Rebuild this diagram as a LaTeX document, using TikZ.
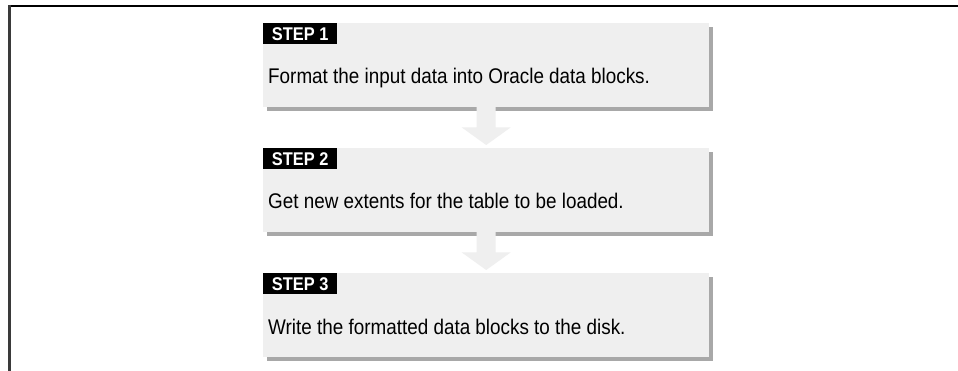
\documentclass[tikz,border=0pt]{standalone}
\usepackage{fontspec}
\setmainfont{Liberation Sans}
\newfontfamily\condfont[FakeStretch=0.89]{Liberation Sans}
\usetikzlibrary{calc,shadows}
\definecolor{boxfill}{HTML}{EFEFEF}
\definecolor{shadowc}{HTML}{A8A8A8}
\definecolor{framec}{HTML}{3A3A3A}
\begin{document}
\begin{tikzpicture}[x=1pt,y=-1pt,
  stepbox/.style={anchor=north west, minimum width=446pt, minimum height=84pt,
    fill=boxfill, inner sep=0pt,
    drop shadow={shadow xshift=4pt, shadow yshift=-4pt, fill=shadowc, opacity=1}},
  steplabel/.style={anchor=north west, fill=black, text=white,
    font=\condfont\fontsize{18.4}{20}\selectfont\bfseries,
    minimum width=74pt, minimum height=21pt, inner sep=0pt},
  steptext/.style={anchor=base west, font=\condfont\fontsize{21.2}{24}\selectfont, inner sep=0pt},
  flow/.style={fill=boxfill}]
\useasboundingbox (0,0) rectangle (958,371);
\fill[white] (0,0) rectangle (958,371);
\draw[line width=2pt] (8,6) -- (958,6);
\draw[line width=3pt, framec] (9.5,5) -- (9.5,371);

\node[stepbox] (b1) at (263,23) {};
\node[stepbox] (b2) at (263,148) {};
\node[stepbox] (b3) at (263,273) {};

\node[steplabel] (l1) at (b1.north west) {STEP 1};
\node[steplabel] (l2) at (b2.north west) {STEP 2};
\node[steplabel] (l3) at (b3.north west) {STEP 3};

\node[steptext] (t1) at ($(b1.north west)+(5,61)$) {Format the input data into Oracle data blocks.};
\node[steptext] (t2) at ($(b2.north west)+(5,61)$) {Get new extents for the table to be loaded.};
\node[steptext] (t3) at ($(b3.north west)+(5,61)$) {Write the formatted data blocks to the disk.};

\foreach \a/\b in {b1/b2, b2/b3}{
  \fill[flow] ($(\a.south)+(-9.5,-2)$) -- ($(\a.south)+(9.5,-2)$)
    -- ($(\a.south)+(9.5,20)$) -- ($(\a.south)+(24.5,20)$)
    -- ($(\b.north)+(0,-3)$)
    -- ($(\a.south)+(-24.5,20)$) -- ($(\a.south)+(-9.5,20)$) -- cycle;
}
\end{tikzpicture}
\end{document}
